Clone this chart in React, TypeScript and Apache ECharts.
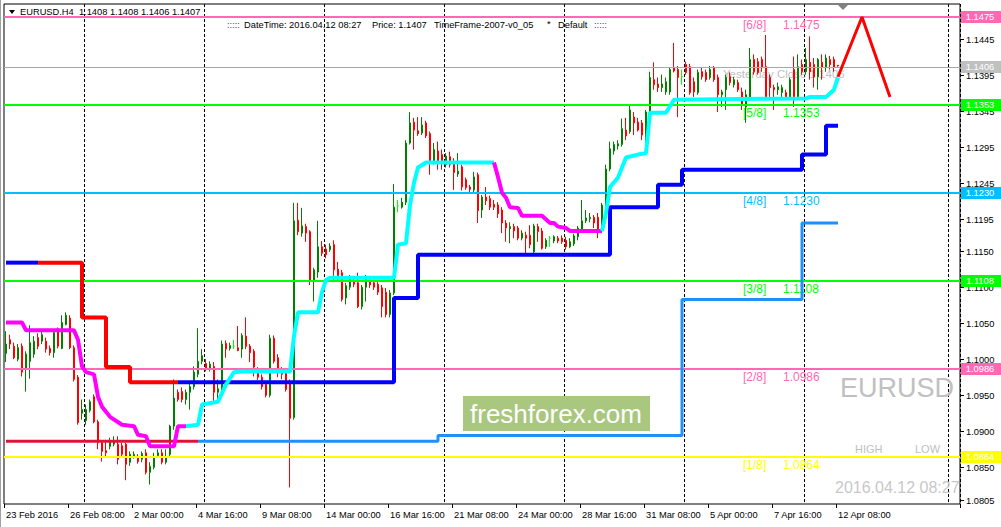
import React, { useEffect, useRef } from 'react';
import * as echarts from 'echarts';

// ---------- DATA ----------
const opens = [
1.1008,1.1027,1.1018,1.1000,1.1018,1.0986,1.0997,1.1007,1.1030,1.1025,
1.1025,1.1015,1.1009,1.1039,1.1015,1.1048,1.1057,1.1016,1.0975,1.0925,
1.0915,1.0929,1.0948,1.0913,1.0884,1.0873,1.0879,1.0882,1.0882,1.0880,
1.0882,1.0857,1.0865,1.0863,1.0861,1.0870,1.0843,1.0850,1.0866,1.0870,
1.0857,1.0868,1.0907,1.0954,1.0955,1.0944,1.0954,1.0962,1.0979,1.0997,
1.0994,1.0986,1.0990,1.0954,1.0958,1.1022,1.1015,1.1018,1.1016,1.1014,
1.1032,1.1018,1.1011,1.0986,1.0975,1.0965,1.0950,1.1029,1.1002,1.0983,
1.0982,1.0968,1.0919,1.1193,1.1175,1.1184,1.1177,1.1110,1.1121,1.1156,
1.1153,1.1152,1.1159,1.1125,1.1120,1.1085,1.1100,1.1107,1.1106,1.1073,
1.1100,1.1107,1.1106,1.1104,1.1099,1.1093,1.1062,1.1092,1.1213,1.1211,
1.1218,1.1300,1.1329,1.1317,1.1314,1.1328,1.1313,1.1274,1.1289,1.1284,
1.1270,1.1281,1.1274,1.1257,1.1267,1.1249,1.1239,1.1235,1.1256,1.1207,
1.1225,1.1223,1.1215,1.1214,1.1207,1.1189,1.1181,1.1184,1.1182,1.1168,
1.1172,1.1172,1.1149,1.1184,1.1178,1.1156,1.1168,1.1164,1.1168,1.1168,
1.1165,1.1156,1.1160,1.1170,1.1179,1.1192,1.1195,1.1197,1.1197,1.1178,
1.1214,1.1264,1.1289,1.1296,1.1298,1.1318,1.1316,1.1336,1.1329,1.1328,
1.1304,1.1343,1.1388,1.1382,1.1377,1.1371,1.1371,1.1405,1.1402,1.1392,
1.1409,1.1406,1.1385,1.1370,1.1399,1.1398,1.1391,1.1405,1.1391,1.1367,
1.1374,1.1392,1.1381,1.1384,1.1371,1.1350,1.1364,1.1416,1.1413,1.1416,
1.1406,1.1391,1.1377,1.1374,1.1370,1.1370,1.1363,1.1402,1.1364,1.1409,
1.1399,1.1412,1.1409,1.1392,1.1412,1.1405,1.1416,1.1416,1.1408];

const closes = [
1.1021,1.1021,1.1002,1.1016,1.0982,1.1007,1.1023,1.1025,1.1018,1.1034,
1.1014,1.1009,1.1037,1.1018,1.1051,1.1061,1.1016,1.0972,1.0912,1.0930,
1.0930,1.0941,1.0913,1.0884,1.0872,1.0870,1.0887,1.0886,1.0861,1.0868,
1.0854,1.0868,1.0868,1.0858,1.0869,1.0843,1.0851,1.0865,1.0870,1.0857,
1.0863,1.0907,1.0946,1.0944,1.0944,1.0954,1.0962,1.0982,1.0997,1.1005,
1.0986,1.0993,1.0954,1.0959,1.1021,1.1014,1.1019,1.1018,1.1012,1.1033,
1.1018,1.1009,1.0989,1.0975,1.0962,1.0950,1.1029,1.0997,1.0983,1.0979,
1.0958,1.0918,1.1192,1.1177,1.1185,1.1175,1.1110,1.1124,1.1156,1.1147,
1.1145,1.1157,1.1124,1.1114,1.1083,1.1102,1.1113,1.1104,1.1073,1.1100,
1.1113,1.1103,1.1100,1.1093,1.1073,1.1062,1.1092,1.1211,1.1213,1.1218,
1.1300,1.1328,1.1318,1.1313,1.1325,1.1310,1.1274,1.1291,1.1273,1.1273,
1.1282,1.1270,1.1259,1.1261,1.1239,1.1238,1.1236,1.1253,1.1206,1.1225,
1.1220,1.1211,1.1211,1.1202,1.1189,1.1182,1.1184,1.1178,1.1168,1.1175,
1.1168,1.1159,1.1185,1.1177,1.1154,1.1165,1.1168,1.1170,1.1164,1.1163,
1.1156,1.1163,1.1171,1.1182,1.1192,1.1196,1.1197,1.1189,1.1178,1.1214,
1.1264,1.1292,1.1298,1.1299,1.1320,1.1310,1.1346,1.1328,1.1318,1.1311,
1.1343,1.1391,1.1381,1.1377,1.1382,1.1385,1.1402,1.1400,1.1391,1.1392,
1.1398,1.1370,1.1371,1.1398,1.1392,1.1388,1.1402,1.1388,1.1367,1.1371,
1.1391,1.1384,1.1388,1.1374,1.1353,1.1367,1.1416,1.1399,1.1398,1.1405,
1.1364,1.1377,1.1374,1.1378,1.1377,1.1363,1.1388,1.1360,1.1406,1.1399,
1.1416,1.1399,1.1392,1.1416,1.1405,1.1418,1.1409,1.1405,1.1407];

const highs = [
1.1039,1.1034,1.1023,1.1021,1.1022,1.1011,1.1047,1.1032,1.1036,1.1039,
1.1030,1.1019,1.1041,1.1044,1.1061,1.1065,1.1061,1.1019,1.0978,1.0944,
1.0937,1.0944,1.0951,1.0916,1.0887,1.0888,1.0891,1.0893,1.0893,1.0884,
1.0884,1.0872,1.0872,1.0868,1.0872,1.0875,1.0857,1.0870,1.0875,1.0875,
1.0875,1.0909,1.0972,1.0958,1.0961,1.0958,1.0968,1.0990,1.1043,1.1014,
1.1000,1.0997,1.0996,1.0972,1.1026,1.1026,1.1023,1.1027,1.1046,1.1036,
1.1058,1.1021,1.1014,1.0989,1.0979,1.0968,1.1034,1.1033,1.1007,1.0989,
1.0986,1.0972,1.1217,1.1217,1.1210,1.1188,1.1179,1.1127,1.1192,1.1164,
1.1159,1.1161,1.1165,1.1135,1.1124,1.1106,1.1117,1.1113,1.1120,1.1103,
1.1117,1.1111,1.1110,1.1107,1.1103,1.1099,1.1096,1.1243,1.1221,1.1224,
1.1304,1.1343,1.1335,1.1336,1.1336,1.1331,1.1316,1.1300,1.1302,1.1291,
1.1286,1.1288,1.1279,1.1286,1.1270,1.1252,1.1242,1.1260,1.1259,1.1228,
1.1239,1.1227,1.1221,1.1218,1.1211,1.1193,1.1190,1.1188,1.1185,1.1179,
1.1177,1.1186,1.1188,1.1188,1.1182,1.1168,1.1171,1.1172,1.1171,1.1172,
1.1170,1.1168,1.1174,1.1185,1.1221,1.1207,1.1203,1.1200,1.1203,1.1217,
1.1270,1.1302,1.1302,1.1304,1.1334,1.1335,1.1353,1.1343,1.1335,1.1332,
1.1346,1.1399,1.1412,1.1391,1.1395,1.1391,1.1405,1.1439,1.1407,1.1402,
1.1413,1.1410,1.1391,1.1402,1.1405,1.1402,1.1407,1.1407,1.1395,1.1374,
1.1395,1.1398,1.1392,1.1388,1.1377,1.1374,1.1432,1.1423,1.1418,1.1420,
1.1450,1.1395,1.1381,1.1384,1.1381,1.1374,1.1391,1.1420,1.1423,1.1416,
1.1432,1.1448,1.1418,1.1418,1.1423,1.1423,1.1421,1.1420,1.1408];

const lows = [
1.0996,1.1014,1.1000,1.0997,1.0976,1.0955,1.0973,1.1002,1.1014,1.1021,
1.1009,1.1005,1.1002,1.1015,1.1014,1.1047,1.1014,1.0969,1.0909,1.0916,
1.0909,1.0926,1.0911,1.0875,1.0858,1.0865,1.0875,1.0879,1.0854,1.0863,
1.0832,1.0852,1.0862,1.0855,1.0857,1.0840,1.0826,1.0847,1.0863,1.0854,
1.0854,1.0863,1.0902,1.0941,1.0940,1.0937,1.0930,1.0958,1.0975,1.0993,
1.0983,1.0983,1.0941,1.0944,1.0955,1.1002,1.1012,1.1014,1.1011,1.1002,
1.1014,1.0996,1.0976,1.0971,1.0958,1.0947,1.0947,1.0994,1.0975,1.0972,
1.0955,1.0822,1.0916,1.1172,1.1170,1.1163,1.1103,1.1080,1.1113,1.1143,
1.1140,1.1149,1.1110,1.1107,1.1080,1.1076,1.1096,1.1100,1.1071,1.1069,
1.1080,1.1099,1.1096,1.1089,1.1058,1.1058,1.1058,1.1089,1.1204,1.1209,
1.1214,1.1298,1.1291,1.1310,1.1311,1.1307,1.1256,1.1270,1.1263,1.1263,
1.1266,1.1266,1.1235,1.1253,1.1234,1.1235,1.1231,1.1232,1.1189,1.1196,
1.1214,1.1207,1.1207,1.1196,1.1175,1.1163,1.1161,1.1168,1.1165,1.1165,
1.1147,1.1154,1.1147,1.1163,1.1152,1.1153,1.1156,1.1161,1.1161,1.1160,
1.1152,1.1154,1.1157,1.1165,1.1177,1.1189,1.1190,1.1182,1.1168,1.1175,
1.1211,1.1261,1.1284,1.1291,1.1295,1.1304,1.1313,1.1311,1.1316,1.1304,
1.1300,1.1341,1.1374,1.1371,1.1371,1.1367,1.1367,1.1398,1.1336,1.1381,
1.1395,1.1367,1.1364,1.1367,1.1388,1.1385,1.1388,1.1385,1.1343,1.1350,
1.1346,1.1380,1.1377,1.1371,1.1346,1.1328,1.1362,1.1395,1.1395,1.1399,
1.1360,1.1363,1.1346,1.1367,1.1360,1.1360,1.1360,1.1350,1.1362,1.1395,
1.1395,1.1388,1.1377,1.1374,1.1388,1.1399,1.1402,1.1399,1.1406];

const dojiBars = [57, 98, 136, 169];

const timeLabels = ['23 Feb 2016', '26 Feb 08:00', '2 Mar 00:00', '4 Mar 16:00', '9 Mar 08:00',
  '14 Mar 00:00', '16 Mar 16:00', '21 Mar 08:00', '24 Mar 00:00', '28 Mar 16:00',
  '31 Mar 08:00', '5 Apr 00:00', '7 Apr 16:00', '12 Apr 08:00'];
const barsPerLabel = 16;
const totalSlots = 239;
const gridBars = [20, 50, 80, 110, 140, 170, 200, 236];

const priceTicks = [1.1445, 1.1395, 1.1345, 1.1295, 1.1245, 1.1195, 1.1150,
  1.1100, 1.1050, 1.1000, 1.0950, 1.0900, 1.0850, 1.0805];

const murreyLevels = [1.1475, 1.1353, 1.1230, 1.1108, 1.0986, 1.0864];
const murreyNames = ['[6/8]', '[5/8]', '[4/8]', '[3/8]', '[2/8]', '[1/8]'];
const yesterdayClose = 1.1406;

// trailing-stop style lines: [barIndex, price] break points
const stopA_blueStart = [[0, 1.1134], [8, 1.1134]];
const stopA_red = [[8, 1.1134], [19, 1.1058], [25, 1.0989], [31, 1.0968], [43, 1.0968]];
const stopA_blue = [[43, 1.0968], [97, 1.1085], [103, 1.1145], [151, 1.1211], [163, 1.1242],
  [169, 1.1263], [199, 1.1284], [205, 1.1324], [208, 1.1324]];
const stopB_red = [[0, 1.0886], [48, 1.0886]];
const stopB_blue = [[48, 1.0886], [108, 1.0894], [169, 1.1083], [199, 1.1189], [208, 1.1189]];

// moving average, down (magenta) / up (cyan) parts
const maDown1 = [[0, 1.1051], [4, 1.1051], [5, 1.1040], [17, 1.1040], [18, 1.1027], [19, 1.0990],
  [20, 1.0982], [22, 1.0979], [23, 1.0948], [24, 1.0934], [26, 1.0920], [29, 1.0909], [32, 1.0907],
  [33, 1.0895], [35, 1.0893], [36, 1.0879], [42, 1.0879], [43, 1.0907], [45, 1.0907]];
const maUp1 = [[45, 1.0907], [48, 1.0909], [49, 1.0937], [53, 1.0941], [55, 1.0965], [57, 1.0982],
  [59, 1.0983], [71, 1.0983], [72, 1.1032], [73, 1.1065], [78, 1.1065], [79, 1.1093], [80, 1.1110],
  [81, 1.1113], [97, 1.1113], [98, 1.1159], [100, 1.1161], [101, 1.1214], [102, 1.1245],
  [103, 1.1266], [105, 1.1273], [122, 1.1273]];
const maDown2 = [[122, 1.1273], [123, 1.1253], [124, 1.1231], [125, 1.1224], [126, 1.1211],
  [128, 1.1210], [129, 1.1199], [134, 1.1199], [136, 1.1189], [137, 1.1189], [138, 1.1184],
  [140, 1.1182], [141, 1.1178], [149, 1.1178]];
const maUp2 = [[149, 1.1178], [150, 1.1203], [151, 1.1239], [153, 1.1252], [154, 1.1266],
  [155, 1.1280], [158, 1.1284], [160, 1.1286], [161, 1.1342], [165, 1.1342], [167, 1.1360],
  [200, 1.1362], [201, 1.1364], [205, 1.1364], [207, 1.1374], [208, 1.1391]];

const zigzag = [[208, 1.1392], [214, 1.1475], [221, 1.1364]];

// ---------- STYLES ----------
const FONT = '"Liberation Sans", Arial, sans-serif';
const f = (s: number) => `${s}px ${FONT}`;
const UP = '#008000';
const DOWN = '#ff0000';
const LIME = '#00ff00';
const murreyColors = ['#ff69b4', '#00ff00', '#00bfff', '#00ff00', '#ff69b4', '#ffff00'];
const closeLineColor = '#a8a8a8';
const closeTagColor = '#c0c0c0';

const candleData = opens.map((o, i) => {
  const value = [o, closes[i], lows[i], highs[i]];
  if (dojiBars.includes(i)) {
    return { value, itemStyle: { color: LIME, color0: LIME, borderColor: LIME, borderColor0: LIME } };
  }
  return value;
});

const levelData = murreyLevels.map((v, k) => [0, v, k]).concat([[0, yesterdayClose, 6]]);

const isLabelBar = (i: number) => i % barsPerLabel === 0 && i / barsPerLabel < timeLabels.length;

function renderTicks(params: any, api: any) {
  const cs = params.coordSys;
  const v = api.value(1);
  const y = Math.round(api.coord([0, v])[1]) + 0.5;
  const x = cs.x + cs.width;
  return {
    type: 'group',
    children: [
      { type: 'line', shape: { x1: x, y1: y, x2: x + 4, y2: y }, style: { stroke: '#000', lineWidth: 1 } },
      { type: 'text', x: x + 6, y, style: { text: v.toFixed(4), fill: '#000', font: f(9.3), align: 'left', verticalAlign: 'middle' } },
    ],
  };
}

function renderLevels(params: any, api: any) {
  const cs = params.coordSys;
  const v = api.value(1);
  const k = api.value(2);
  const isClose = k === 6;
  const color = isClose ? closeLineColor : murreyColors[k];
  const y = Math.round(api.coord([0, v])[1]);
  const right = cs.x + cs.width;
  return {
    type: 'group',
    children: [
      { type: 'line', shape: { x1: cs.x, y1: isClose ? y + 0.5 : y, x2: right, y2: isClose ? y + 0.5 : y },
        style: { stroke: color, lineWidth: isClose ? 1 : 2 } },
      { type: 'rect', shape: { x: right + 1, y: y - 6, width: 41, height: 12 },
        style: { fill: isClose ? closeTagColor : color } },
      { type: 'text', x: right + 20, y, style: { text: v.toFixed(4), fill: '#fff', font: f(9.3), align: 'center', verticalAlign: 'middle' } },
    ],
  };
}

function renderLevelTexts(params: any, api: any) {
  const v = api.value(1);
  const k = api.value(2);
  if (k === 6) {
    const p = api.coord([180, v]);
    return { type: 'text', x: p[0] - 3, y: p[1] + 7,
      style: { text: 'Yesterday Close ' + v.toFixed(4), fill: '#c0c0c0', font: f(11.5), verticalAlign: 'middle' } };
  }
  const p = api.coord([185, v]);
  const color = murreyColors[k];
  return {
    type: 'group',
    children: [
      { type: 'text', x: p[0] - 3, y: p[1] + 8, style: { text: murreyNames[k], fill: color, font: f(12), verticalAlign: 'middle' } },
      { type: 'text', x: p[0] + 37, y: p[1] + 8, style: { text: v.toFixed(4), fill: color, font: f(12), verticalAlign: 'middle' } },
    ],
  };
}

const lineSeries = (data: number[][], color: string, width: number, step: any, z: number) => ({
  type: 'line', data, step, showSymbol: false, symbol: 'none', silent: true, z,
  lineStyle: { color, width }, itemStyle: { color }, emphasis: { disabled: true },
});

const option: any = {
  animation: false,
  textStyle: { fontFamily: FONT },
  grid: { left: 4, right: 41, top: 4, bottom: 23, show: true, borderColor: '#000', borderWidth: 1 },
  xAxis: {
    type: 'category',
    data: Array.from({ length: totalSlots }, (_, i) => String(i)),
    boundaryGap: true,
    axisLine: { show: false },
    axisTick: { show: true, interval: (i: number) => isLabelBar(i), length: 4, lineStyle: { color: '#000' } },
    axisLabel: {
      interval: (i: number) => isLabelBar(i),
      formatter: (v: string) => { const i = +v; return isLabelBar(i) ? timeLabels[i / barsPerLabel] : ''; },
      align: 'left', color: '#000', fontSize: 9.3, fontFamily: FONT, margin: 6, hideOverlap: false,
    },
    splitLine: { show: true, interval: (i: number) => gridBars.includes(i), lineStyle: { color: '#000', width: 1, type: [3, 2] } },
  },
  yAxis: {
    type: 'value', min: 1.0799, max: 1.1493, position: 'right',
    axisLine: { show: false }, axisTick: { show: false }, axisLabel: { show: false }, splitLine: { show: false },
  },
  series: [
    { type: 'custom', name: 'levelTexts', data: levelData, renderItem: renderLevelTexts, encode: { x: 0, y: 1 }, clip: false, silent: true, z: 1 },
    {
      type: 'candlestick', name: 'EURUSD', data: candleData, barWidth: 2, silent: true, z: 2,
      itemStyle: { color: UP, color0: DOWN, borderColor: UP, borderColor0: DOWN, borderWidth: 1 },
    },
    { type: 'custom', name: 'ticks', data: priceTicks.map((v) => [0, v]), renderItem: renderTicks, encode: { x: 0, y: 1 }, clip: false, silent: true, z: 3 },
    { type: 'custom', name: 'levels', data: levelData, renderItem: renderLevels, encode: { x: 0, y: 1 }, clip: false, silent: true, z: 4 },
    lineSeries(stopB_red, '#dc143c', 3, 'end', 5),
    lineSeries(stopB_blue, '#1e90ff', 3, 'end', 5),
    lineSeries(stopA_blueStart, '#0000ff', 4, 'end', 5),
    lineSeries(stopA_red, '#ff0000', 4, 'end', 5),
    lineSeries(stopA_blue, '#0000ff', 4, 'end', 5),
    lineSeries(maDown1, '#ff00ff', 4, false, 6),
    lineSeries(maUp1, '#00ffff', 4, false, 6),
    lineSeries(maDown2, '#ff00ff', 4, false, 6),
    lineSeries(maUp2, '#00ffff', 4, false, 6),
    lineSeries(zigzag, '#ff0000', 3, false, 7),
  ],
  graphic: [
    { type: 'line', z: 10, shape: { x1: 0.5, y1: 0, x2: 0.5, y2: 527 }, style: { stroke: '#a0a0a0', lineWidth: 1 } },
    { type: 'polygon', z: 10, shape: { points: [[9, 10], [15, 10], [12, 14]] }, style: { fill: '#000' } },
    { type: 'text', z: 10, x: 20, y: 12, style: { text: 'EURUSD.H4  1.1408 1.1408 1.1406 1.1407', font: f(9.3), fill: '#000', verticalAlign: 'middle' } },
    { type: 'text', z: 10, x: 227, y: 25, style: { text: ':::::', font: f(9.3), fill: '#404080', verticalAlign: 'middle' } },
    { type: 'text', z: 10, x: 244, y: 25, style: { text: 'DateTime: 2016.04.12 08:27', font: f(9.3), fill: '#000', verticalAlign: 'middle' } },
    { type: 'text', z: 10, x: 372, y: 25, style: { text: 'Price: 1.1407', font: f(9.3), fill: '#000', verticalAlign: 'middle' } },
    { type: 'text', z: 10, x: 434, y: 25, style: { text: 'TimeFrame-2007-v0_05', font: f(9.3), fill: '#000', verticalAlign: 'middle' } },
    { type: 'text', z: 10, x: 547, y: 24, style: { text: '*', font: f(9.3), fill: '#000', verticalAlign: 'middle' } },
    { type: 'text', z: 10, x: 558, y: 25, style: { text: 'Default', font: f(9.3), fill: '#000', verticalAlign: 'middle' } },
    { type: 'text', z: 10, x: 594, y: 25, style: { text: ':::::', font: f(9.3), fill: '#404080', verticalAlign: 'middle' } },
    { type: 'polygon', z: 10, shape: { points: [[838, 5], [848, 5], [843, 10]] }, style: { fill: '#808080' } },
    { type: 'rect', z: 1, shape: { x: 463, y: 396, width: 187, height: 35 }, style: { fill: '#a9c77f' } },
    { type: 'text', z: 1, x: 556, y: 414, style: { text: 'freshforex.com', font: f(26), fill: '#fff', align: 'center', verticalAlign: 'middle' } },
    { type: 'text', z: 1, x: 840, y: 388, style: { text: 'EURUSD', font: f(27), fill: '#c0c0c0', verticalAlign: 'middle' } },
    { type: 'text', z: 1, x: 855, y: 449, style: { text: 'HIGH', font: f(11), fill: '#c0c0c0', verticalAlign: 'middle' } },
    { type: 'text', z: 1, x: 915, y: 449, style: { text: 'LOW', font: f(11), fill: '#c0c0c0', verticalAlign: 'middle' } },
    { type: 'text', z: 1, x: 835, y: 487, style: { text: '2016.04.12 08:27', font: f(16), fill: '#c8c8c8', verticalAlign: 'middle' } },
  ],
};

export default function App() {
  const ref = useRef<HTMLDivElement>(null);
  useEffect(() => {
    const chart = echarts.init(ref.current as HTMLDivElement, null, { renderer: 'svg' });
    chart.setOption(option);
    return () => chart.dispose();
  }, []);
  return (
    <div
      ref={ref}
      style={{ position: 'fixed', left: 0, top: 0, width: 1001, height: 527, background: '#fff' }}
    />
  );
}
